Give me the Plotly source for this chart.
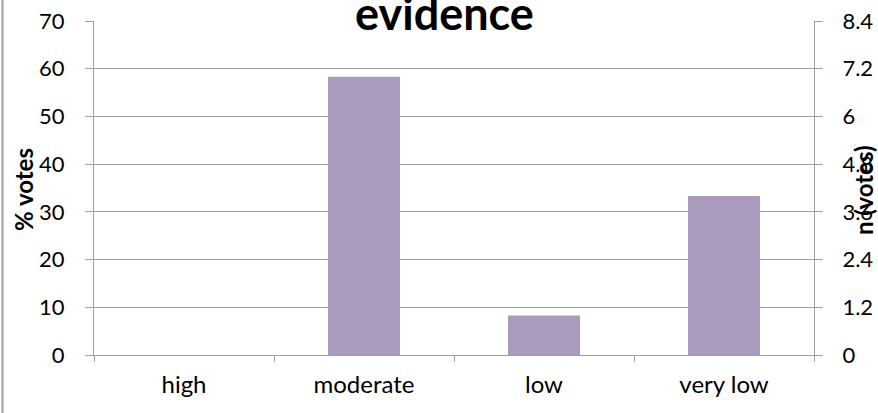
import plotly.graph_objects as go

categories = ["high", "moderate", "low", "very low"]
pct_votes = [0, 58.3, 8.3, 33.3]
n_votes = [0, 7, 1, 4]
left_ticks = [0, 10, 20, 30, 40, 50, 60, 70]
right_ticks = [0, 1.2, 2.4, 3.6, 4.8, 6, 7.2, 8.4]
right_labels = ["0", "1.2", "2.4", "3.6", "4.8", "6", "7.2", "8.4"]

FONT = "Lato, Carlito, sans-serif"
GRID = "#A0A0A0"
W, H = 878, 413
ML, MR, MT, MB = 94, 64, 21, 58

fig = go.Figure()
fig.add_trace(go.Bar(x=categories, y=pct_votes, marker_color="#A99BBE",
                     marker_line_width=0, width=0.4, name="% votes"))
fig.add_trace(go.Bar(x=categories, y=n_votes, yaxis="y2", width=0.4,
                     marker_color="rgba(0,0,0,0)", marker_line_width=0,
                     name="n (votes)", hoverinfo="skip"))

pw = W - ML - MR
ph = H - MT - MB

fig.update_layout(
    width=W, height=H,
    margin=dict(l=ML, r=MR, t=MT, b=MB, pad=0, autoexpand=False),
    paper_bgcolor="white", plot_bgcolor="white",
    showlegend=False, barmode="overlay",
    font=dict(family=FONT, size=22, color="black"),
    xaxis=dict(type="category", tickson="boundaries", ticks="outside",
               ticklen=6, tickcolor=GRID, showline=True, linecolor=GRID,
               linewidth=1, showgrid=False, tickfont=dict(size=24),
               ticklabelstandoff=8, range=[-0.5, 3.5], automargin=False),
    yaxis=dict(range=[0, 70], tickvals=left_ticks, ticks="outside",
               ticklen=8, tickcolor=GRID, showline=True, linecolor=GRID,
               showgrid=True, gridcolor=GRID, gridwidth=1, zeroline=False,
               tickfont=dict(size=22), ticklabelstandoff=16, automargin=False),
    yaxis2=dict(range=[0, 8.4], tickvals=right_ticks, ticktext=right_labels,
                overlaying="y", side="right", ticks="outside", ticklen=8,
                tickcolor=GRID, showline=True, linecolor=GRID, showgrid=False,
                zeroline=False, tickfont=dict(size=22), ticklabelstandoff=15,
                automargin=False),
)

fig.add_annotation(text="<b>evidence</b>", xref="paper", yref="paper",
                   x=(444 - ML) / pw, y=1 + (MT - 13) / ph,
                   xanchor="center", yanchor="middle", showarrow=False,
                   font=dict(size=45, family=FONT, color="black"))
fig.add_annotation(text="<b>% votes</b>", textangle=-90, xref="paper",
                   yref="paper", x=(24 - ML) / pw, y=(H - MB - 190) / ph,
                   showarrow=False, font=dict(size=24, family=FONT),
                   xanchor="center", yanchor="middle")
fig.add_annotation(text="<b>n (votes)</b>", textangle=-90, xref="paper",
                   yref="paper", x=(864 - ML) / pw, y=(H - MB - 190) / ph,
                   showarrow=False, font=dict(size=24, family=FONT),
                   xanchor="center", yanchor="middle")

fig.add_shape(type="line", xref="paper", yref="paper",
              x0=(2.5 - ML) / pw, x1=(2.5 - ML) / pw,
              y0=-MB / ph - 0.1, y1=1 + MT / ph + 0.1,
              line=dict(color="#A0A0A0", width=2))

fig.write_html("out.html", config={"displayModeBar": False},
               post_script="document.body.style.margin='0';document.body.style.overflow='hidden';")
